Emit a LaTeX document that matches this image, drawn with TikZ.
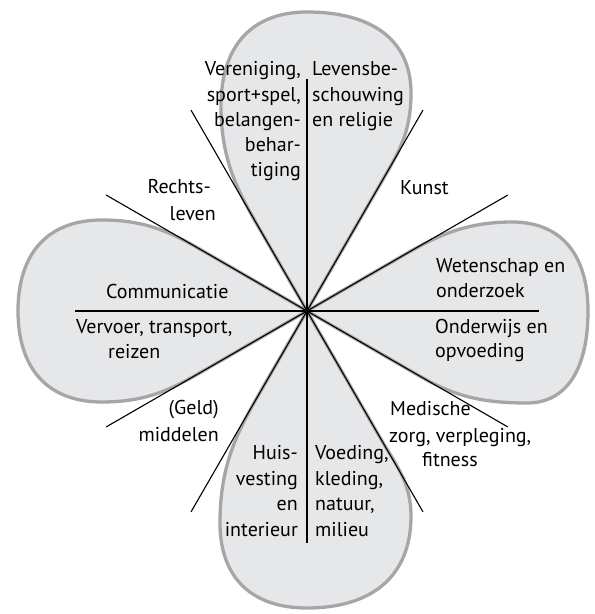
\documentclass[tikz,border=0pt]{standalone}
\usepackage{fontspec}
\setmainfont{PT Sans}
\definecolor{petalfill}{HTML}{E6E7E9}
\definecolor{petaledge}{HTML}{A6A6A8}
\newcommand\petalshape[8]{%
  \begin{scope}[shift={(307,303)}, rotate=#1]
    \draw[petal] (0,0) -- (30:#2)
      .. controls +(30:{0.35*(#3-0.866*#2)}) and +({-0.45*(#3-0.866*#2)},0) .. (#3,#4)
      .. controls +({0.66*(#8-#3)},0) and +(0,{0.62*#4}) .. (#8,0)
      .. controls +(0,{-0.62*#7}) and +({0.66*(#8-#6)},0) .. (#6,-#7)
      .. controls +({-0.45*(#6-0.866*#5)},0) and +(-30:{0.35*(#6-0.866*#5)}) .. (-30:#5)
      -- cycle;
  \end{scope}}
\begin{document}
\begin{tikzpicture}[x=1pt,y=1pt,
  petal/.style={fill=petalfill, draw=petaledge, line width=3.3pt, line join=round},
  ray/.style={line width=1.1pt, black},
  lbl/.style={inner sep=0pt, font=\fontsize{20}{25}\selectfont}]
\fill[white] (0,0) rectangle (595,614);
\useasboundingbox (0,0) rectangle (595,614);
\coordinate (C) at (307,303);
% petals
\petalshape{0}{95}{205}{89}{130}{220}{92}{281}
\petalshape{90}{90}{205}{86}{160}{218}{104}{299}
\petalshape{180}{120}{205}{91}{120}{205}{91}{289}
\petalshape{270}{150}{205}{104}{90}{212}{87}{297}
% rays
\foreach \a in {0,30,...,330} \draw[ray] (C) -- ++(\a:232);
% top
\node[lbl, anchor=base east] (v1) at (301,538) {Vereniging,};
\node[lbl, anchor=base east] (v2) at (301,512.5) {sport+spel,};
\node[lbl, anchor=base east] (v3) at (301,487.5) {belangen-};
\node[lbl, anchor=base east] (v4) at (301,462.5) {behar-};
\node[lbl, anchor=base east] (v5) at (301,437.5) {tiging};
\node[lbl, anchor=base west] (l1) at (312,538) {Levensbe-};
\node[lbl, anchor=base west] (l2) at (312,512.5) {schouwing};
\node[lbl, anchor=base west] (l3) at (312,487.5) {en religie};
\node[lbl, anchor=base west] (k1) at (400,419) {Kunst};
\node[lbl, anchor=base east] (r1) at (211,420) {Rechts-};
\node[lbl, anchor=base east] (r2) at (216,393) {leven};
% left
\node[lbl, anchor=base west] (c1) at (106,315.5) {Communicatie};
\node[lbl, anchor=base west] (t1) at (76,280) {Vervoer, transport,};
\node[lbl, anchor=base west] (t2) at (108,255) {reizen};
\node[lbl, anchor=base east] (g1) at (219,199) {(Geld)};
\node[lbl, anchor=base east] (g2) at (219,172) {middelen};
% right
\node[lbl, anchor=base west] (w1) at (436,341.3) {Wetenschap en};
\node[lbl, anchor=base west] (w2) at (436,316.7) {onderzoek};
\node[lbl, anchor=base west] (o1) at (435,280.7) {Onderwijs en};
\node[lbl, anchor=base west] (o2) at (435,256.7) {opvoeding};
\node[lbl, anchor=base west] (m1) at (390,198) {Medische};
\node[lbl, anchor=base west] (m2) at (389,171) {zorg, verpleging,};
\node[lbl, anchor=base west] (m3) at (422,147) {fitness};
% bottom
\node[lbl, anchor=base east] (h1) at (298,154) {Huis-};
\node[lbl, anchor=base east] (h2) at (298,128.5) {vesting};
\node[lbl, anchor=base east] (h3) at (298,103) {en};
\node[lbl, anchor=base east] (h4) at (298,77.5) {interieur};
\node[lbl, anchor=base west] (f1) at (315,154) {Voeding,};
\node[lbl, anchor=base west] (f2) at (315,128.5) {kleding,};
\node[lbl, anchor=base west] (f3) at (315,103) {natuur,};
\node[lbl, anchor=base west] (f4) at (315,77.5) {milieu};
\end{tikzpicture}
\end{document}
